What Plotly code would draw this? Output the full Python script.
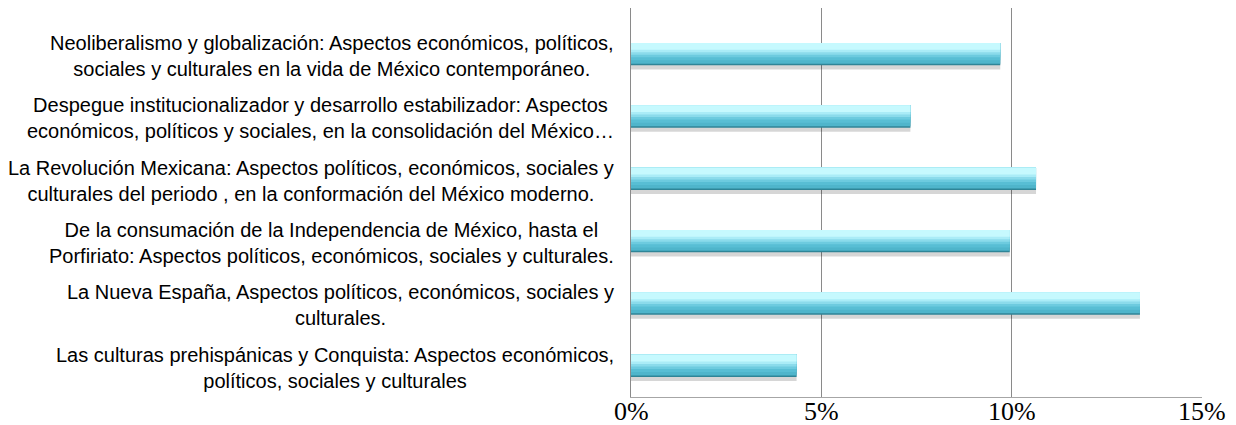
import plotly.graph_objects as go

# Categories listed bottom -> top
categories = [
    "Las culturas prehispánicas y Conquista: Aspectos económicos,<br>políticos, sociales y culturales",
    "La Nueva España, Aspectos políticos, económicos, sociales y<br>culturales.",
    "De la consumación de la Independencia de México, hasta el<br>Porfiriato: Aspectos políticos, económicos, sociales y culturales.",
    "La Revolución Mexicana: Aspectos políticos, económicos, sociales y<br>culturales del periodo , en la conformación del México moderno.",
    "Despegue institucionalizador y desarrollo estabilizador: Aspectos<br>económicos, políticos y sociales, en la consolidación del México…",
    "Neoliberalismo y globalización: Aspectos económicos, políticos,<br>sociales y culturales en la vida de México contemporáneo.",
]
values = [0.0435, 0.1337, 0.0995, 0.1064, 0.0734, 0.0970]
tick_vals = [0, 0.05, 0.10, 0.15]
tick_text = ["0%", "5%", "10%", "15%"]

idx = list(range(len(categories)))

fig = go.Figure()

layers = [
    # (offset, width, color)
    (-0.245, 0.36, "rgba(0,0,0,0.16)"),
    (-0.18, 0.36, "#2f8597"),
    (-0.155, 0.335, "#4fb5cb"),
    (-0.10, 0.28, "#58bed4"),
    (-0.05, 0.23, "#6dcbdf"),
    (-0.01, 0.19, "#8bdbeb"),
    (0.03, 0.15, "#aaecf7"),
    (0.07, 0.11, "#c6f9fe"),
]
for off, w, col in layers:
    fig.add_trace(go.Bar(
        x=values, y=idx, orientation="h",
        width=w, offset=off,
        marker=dict(color=col, line=dict(width=0)),
        hoverinfo="skip", showlegend=False,
    ))

for i, c in enumerate(categories):
    fig.add_annotation(
        x=0, xref="paper", y=i, yref="y",
        text=c, showarrow=False, xanchor="right", yanchor="middle",
        align="center", xshift=-15, yshift=-2,
        font=dict(family="Liberation Sans, Arial, sans-serif", size=20, color="#000000"),
    )

# x tick labels drawn as annotations at the axis values so they sit closer to the axis
for v, t in zip(tick_vals, tick_text):
    fig.add_annotation(
        x=v, xref="x", y=0, yref="paper",
        text=t, showarrow=False, xanchor="center", yanchor="top",
        height=22, valign="middle", yshift=-1,
        font=dict(family="Liberation Serif, Times New Roman, serif", size=26, color="#000000"),
    )

# The page body has an 8px default margin, so the figure is sized to fit the window.
fig.update_layout(
    width=1228, height=417,
    margin=dict(l=623, r=34, t=0, b=28),
    paper_bgcolor="white", plot_bgcolor="white",
    barmode="overlay",
    xaxis=dict(
        range=[0, 0.15], tickvals=tick_vals, showticklabels=False,
        showgrid=True, gridcolor="#8a8a8a", gridwidth=1,
        zeroline=False, showline=True, linecolor="#a6a6a6", linewidth=1,
        ticks="", automargin=False,
    ),
    yaxis=dict(
        range=[-0.5, 5.74], showticklabels=False, showgrid=False,
        zeroline=False, showline=True, linecolor="#8a8a8a", linewidth=1,
        ticks="", automargin=False,
    ),
)

fig.write_html("out.html")
